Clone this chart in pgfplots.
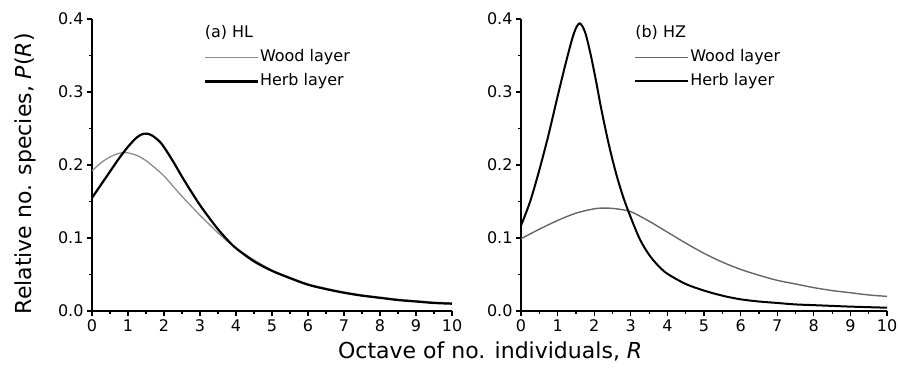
\documentclass[border=0pt]{standalone}
\usepackage{fontspec}
\setmainfont{DejaVu Sans}
\usepackage{pgfplots}
\pgfplotsset{compat=1.18}
\definecolor{woodgray}{gray}{0.55}
\definecolor{woodgrayb}{gray}{0.40}

\pgfplotsset{
  myaxis/.style={
    scale only axis, height=292bp,
    xmin=0,xmax=10,ymin=0,ymax=0.4,
    axis x line*=bottom, axis y line*=left,
    axis line style={line width=1.8bp, black},
    xtick={0,1,2,3,4,5,6,7,8,9,10}, ytick={0,0.1,0.2,0.3,0.4},
    minor x tick num=1, minor y tick num=1,
    tick align=outside, major tick length=5bp, minor tick length=3bp,
    tick style={line width=1.2bp, black},
    ticklabel style={font=\fontsize{16bp}{18bp}\selectfont},
    /pgf/number format/assume math mode=true,
    yticklabel style={/pgf/number format/.cd, fixed, fixed zerofill, precision=1},
    legend style={draw=none, fill=none, font=\fontsize{16bp}{18bp}\selectfont,
      inner sep=0pt, row sep=6bp, anchor=north west,
      nodes={inner sep=1bp, text height=12bp, text depth=4bp}},
    legend cell align=left,
    legend image code/.code={\draw[#1] (0bp,0bp) -- (53bp,0bp);},
  }
}

\begin{document}
\begin{tikzpicture}
\useasboundingbox (0,0) rectangle (898bp,374bp);

% ---------- (a) HL ----------
\begin{axis}[myaxis, width=360bp, at={(92bp,63bp)}, anchor=south west,
  ylabel={Relative no. species, \textit{P}(\textit{R})},
  ylabel style={font=\fontsize{22bp}{24bp}\selectfont, at={(axis description cs:-0.185,0.47)}, anchor=center},
  xlabel={Octave of no. individuals, \textit{R}},
  xlabel style={font=\fontsize{22bp}{24bp}\selectfont, at={(axis description cs:1.106,-0.14)}, anchor=center},
  legend style={at={(axis cs:3.10,0.360)}},
]
\addplot[woodgray, line width=1.3bp, smooth] coordinates {
(0,0.192) (0.25,0.203) (0.5,0.211) (0.75,0.216) (0.95,0.217) (1.25,0.213) (1.5,0.206) (1.75,0.196) (2,0.185) (2.25,0.171) (2.5,0.157) (2.75,0.144) (3,0.131) (3.25,0.119) (3.5,0.107) (3.75,0.096) (4,0.086) (4.5,0.070) (5,0.056) (5.5,0.046) (6,0.037) (6.5,0.031) (7,0.026) (7.5,0.022) (8,0.019) (8.5,0.016) (9,0.014) (9.5,0.012) (10,0.011)};
\addlegendentry{Wood layer}
\addplot[black, line width=2.2bp, smooth] coordinates {
(0,0.155) (0.25,0.173) (0.5,0.191) (0.75,0.209) (1,0.225) (1.25,0.238) (1.45,0.243) (1.65,0.241) (1.9,0.231) (2.1,0.217) (2.3,0.201) (2.5,0.184) (2.75,0.164) (3,0.145) (3.25,0.128) (3.5,0.112) (3.75,0.098) (4,0.086) (4.5,0.068) (5,0.055) (5.5,0.045) (6,0.036) (6.5,0.030) (7,0.025) (7.5,0.021) (8,0.018) (8.5,0.015) (9,0.013) (9.5,0.011) (10,0.010)};
\addlegendentry{Herb layer}
\node[anchor=west, inner sep=1bp, font=\fontsize{16bp}{18bp}\selectfont] at (axis cs:3.10,0.381) {(a) HL};
\end{axis}

% ---------- (b) HZ ----------
\begin{axis}[myaxis, width=366bp, at={(521bp,63bp)}, anchor=south west,
  legend style={at={(axis cs:3.09,0.360)}},
]
\addplot[woodgrayb, line width=1.4bp, smooth] coordinates {
(0,0.099) (0.5,0.112) (1,0.124) (1.5,0.134) (2,0.140) (2.3,0.141) (2.6,0.140) (3,0.136) (3.5,0.123) (4,0.108) (4.5,0.093) (5,0.079) (5.5,0.067) (6,0.057) (6.5,0.049) (7,0.042) (7.5,0.037) (8,0.032) (8.5,0.028) (9,0.025) (9.5,0.022) (10,0.020)};
\addlegendentry{Wood layer}
\addplot[black, line width=2bp, smooth] coordinates {
(0,0.117) (0.25,0.150) (0.5,0.193) (0.75,0.241) (1,0.294) (1.25,0.345) (1.45,0.381) (1.6,0.394) (1.75,0.382) (1.9,0.352) (2.05,0.315) (2.2,0.275) (2.4,0.228) (2.6,0.188) (2.8,0.155) (3,0.128) (3.25,0.098) (3.5,0.077) (3.75,0.062) (4,0.051) (4.5,0.037) (5,0.028) (5.5,0.021) (6,0.016) (6.5,0.013) (7,0.011) (7.5,0.009) (8,0.008) (8.5,0.007) (9,0.006) (10,0.0045)};
\addlegendentry{Herb layer}
\node[anchor=west, inner sep=1bp, font=\fontsize{16bp}{18bp}\selectfont] at (axis cs:3.09,0.381) {(b) HZ};
\end{axis}
\end{tikzpicture}
\end{document}
